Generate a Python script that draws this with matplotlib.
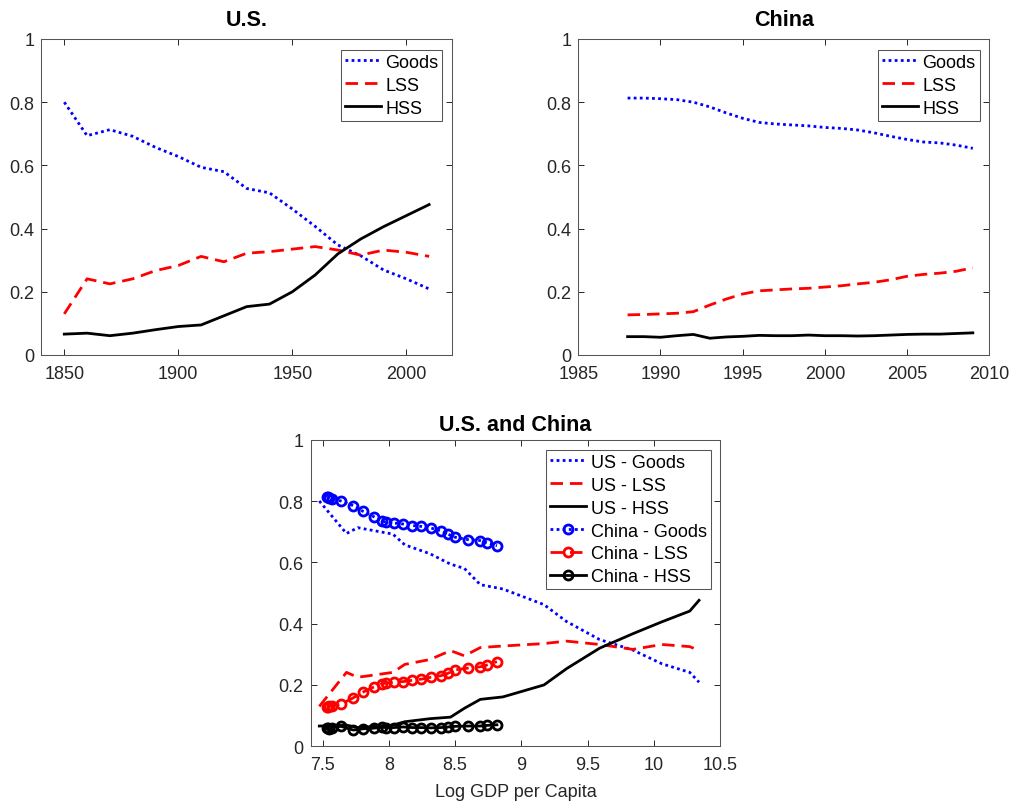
import matplotlib
matplotlib.use("Agg")
import matplotlib.pyplot as plt

# sector shares of employment, U.S. by decade
US_YEARS = [1850, 1860, 1870, 1880, 1890, 1900, 1910, 1920, 1930,
            1940, 1950, 1960, 1970, 1980, 1990, 2000, 2010]
US_GOODS = [0.800, 0.694, 0.713, 0.692, 0.657, 0.628, 0.594, 0.580, 0.527,
            0.513, 0.462, 0.407, 0.348, 0.314, 0.269, 0.241, 0.209]
US_LSS = [0.130, 0.241, 0.225, 0.241, 0.267, 0.283, 0.312, 0.295, 0.322,
          0.327, 0.335, 0.343, 0.332, 0.316, 0.332, 0.325, 0.312]
US_HSS = [0.066, 0.069, 0.061, 0.069, 0.080, 0.090, 0.095, 0.124, 0.153,
          0.161, 0.200, 0.253, 0.320, 0.367, 0.406, 0.441, 0.476]
US_LOGGDP = [7.475, 7.68, 7.765, 8.03, 8.12, 8.31, 8.465, 8.57, 8.69,
             8.86, 9.17, 9.34, 9.59, 9.84, 10.06, 10.27, 10.34]

# China, yearly
CN_YEARS = [1988, 1989, 1990, 1991, 1992, 1993, 1994, 1995, 1996, 1997, 1998,
            1999, 2000, 2001, 2002, 2003, 2004, 2005, 2006, 2007, 2008, 2009]
CN_GOODS = [0.813, 0.813, 0.811, 0.808, 0.800, 0.785, 0.766, 0.749, 0.736, 0.731, 0.728,
            0.725, 0.720, 0.717, 0.712, 0.703, 0.692, 0.682, 0.674, 0.671, 0.664, 0.654]
CN_LSS = [0.127, 0.128, 0.130, 0.132, 0.137, 0.158, 0.177, 0.193, 0.203, 0.206, 0.209,
          0.211, 0.215, 0.219, 0.225, 0.230, 0.238, 0.249, 0.255, 0.259, 0.265, 0.276]
CN_HSS = [0.058, 0.058, 0.056, 0.061, 0.065, 0.053, 0.057, 0.059, 0.062, 0.061, 0.061,
          0.063, 0.061, 0.061, 0.060, 0.061, 0.063, 0.065, 0.066, 0.066, 0.068, 0.070]
CN_LOGGDP = [7.535, 7.54, 7.55, 7.57, 7.638, 7.731, 7.806, 7.885, 7.945, 7.975, 8.037,
             8.107, 8.175, 8.246, 8.316, 8.391, 8.445, 8.497, 8.597, 8.688, 8.738, 8.815]

DOT = (0, (1, 1.2))
DASH = (0, (4.5, 2.5))
LW = 2.0
AXC = "#262626"
FS = 13

plt.rcParams["font.family"] = ["Liberation Sans", "DejaVu Sans"]


def style(ax, xlim, xticks, xlabels=None):
    ax.set_xlim(*xlim)
    ax.set_ylim(0, 1)
    ax.set_xticks(xticks)
    if xlabels:
        ax.set_xticklabels(xlabels)
    ax.set_yticks([0, 0.2, 0.4, 0.6, 0.8, 1])
    ax.set_yticklabels(["0", "0.2", "0.4", "0.6", "0.8", "1"])
    ax.tick_params(direction="in", length=4, width=0.7, top=True, right=True,
                   colors=AXC, labelsize=FS)
    ax.tick_params(axis="x", pad=7)
    ax.tick_params(axis="y", pad=5)
    for s in ax.spines.values():
        s.set_linewidth(0.75)
        s.set_color("#555555")


def legend(ax, anchor):
    lg = ax.legend(loc="upper right", bbox_to_anchor=anchor, borderaxespad=0,
                   fontsize=FS, fancybox=False, framealpha=1, handlelength=2.0,
                   handletextpad=0.25, labelspacing=0.33, borderpad=0.22)
    lg.get_frame().set_edgecolor("#555555")
    lg.get_frame().set_linewidth(0.75)


def three(ax, x, g, l, h, names, **kw):
    ax.plot(x, g, color="b", ls=DOT, lw=LW, label=names[0], **kw)
    ax.plot(x, l, color="r", ls=DASH, lw=LW, label=names[1], **kw)
    ax.plot(x, h, color="k", ls="-", lw=LW, label=names[2], **kw)


fig = plt.figure(figsize=(10.14, 8.03), dpi=100)

ax1 = fig.add_axes([0.0409, 0.5567, 0.4048, 0.3935])
three(ax1, US_YEARS, US_GOODS, US_LSS, US_HSS, ["Goods", "LSS", "HSS"])
style(ax1, (1840, 2020), [1850, 1900, 1950, 2000])
ax1.set_title("U.S.", fontsize=15.5, fontweight="bold", pad=10)
legend(ax1, (0.9764, 0.966))

ax2 = fig.add_axes([0.5703, 0.5567, 0.4053, 0.3935])
three(ax2, CN_YEARS, CN_GOODS, CN_LSS, CN_HSS, ["Goods", "LSS", "HSS"])
style(ax2, (1985, 2010), [1985, 1990, 1995, 2000, 2005, 2010])
ax2.set_title("China", fontsize=15.5, fontweight="bold", pad=10)
legend(ax2, (0.9764, 0.966))

ax3 = fig.add_axes([0.3064, 0.0694, 0.4039, 0.3818])
three(ax3, US_LOGGDP, US_GOODS, US_LSS, US_HSS, ["US - Goods", "US - LSS", "US - HSS"])
three(ax3, CN_LOGGDP, CN_GOODS, CN_LSS, CN_HSS,
      ["China - Goods", "China - LSS", "China - HSS"],
      marker="o", ms=6.5, mfc="none", mew=2)
style(ax3, (7.41, 10.5), [7.5, 8, 8.5, 9, 9.5, 10, 10.5],
      ["7.5", "8", "8.5", "9", "9.5", "10", "10.5"])
ax3.set_title("U.S. and China", fontsize=15.5, fontweight="bold", pad=7)
ax3.set_xlabel("Log GDP per Capita", fontsize=FS, color=AXC, labelpad=7)
legend(ax3, (0.9766, 0.9674))

fig.savefig("out.png", dpi=100)
